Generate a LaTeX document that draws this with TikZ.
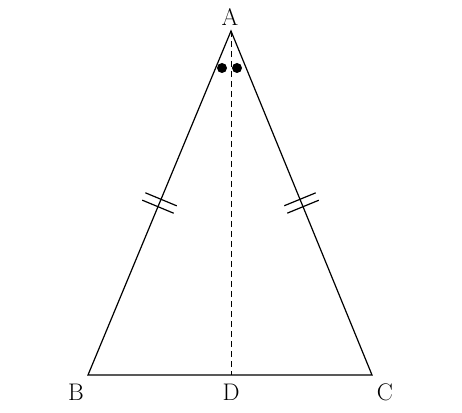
\documentclass[tikz,border=0pt]{standalone}
\usetikzlibrary{calc}
\begin{document}
\begin{tikzpicture}[x=1pt, y=1pt, line width=1.2pt]
    \tikzstyle{side} = [draw, line cap=round]
    \tikzstyle{vertex} = [font=\fontsize{24}{29}\selectfont]
    \tikzstyle{dot} = [fill, circle, inner sep=0pt, minimum size=10pt]
    \useasboundingbox (0,0) rectangle (462,412);
    \coordinate (A) at (231,381);
    \coordinate (B) at (88,37);
    \coordinate (C) at (372,37);
    \coordinate (D) at (231,37);
    \node[vertex] (lA) at (230,395) {A};
    \node[vertex] (lB) at (76,20) {B};
    \node[vertex] (lD) at (231,20) {D};
    \node[vertex] (lC) at (385,20) {C};
    % triangle and altitude
    \draw[side] (A) -- (B) -- (C) -- cycle;
    \draw[line width=0.9pt, dash pattern=on 6pt off 4pt] (A) -- (D);
    % equal angles at A
    \node[dot] (d1) at (222,344) {};
    \node[dot] (d2) at (237,344) {};
    % equal sides
    \foreach \s in {B, C} {
      \foreach \d in {-4, 4} {
        \coordinate (t) at ($(\s)!0.5!(A)!\d pt!(A)$);
        \draw ($(t)!17pt!90:(A)$) -- ($(t)!17pt!-90:(A)$);
      }
    }
\end{tikzpicture}
\end{document}
